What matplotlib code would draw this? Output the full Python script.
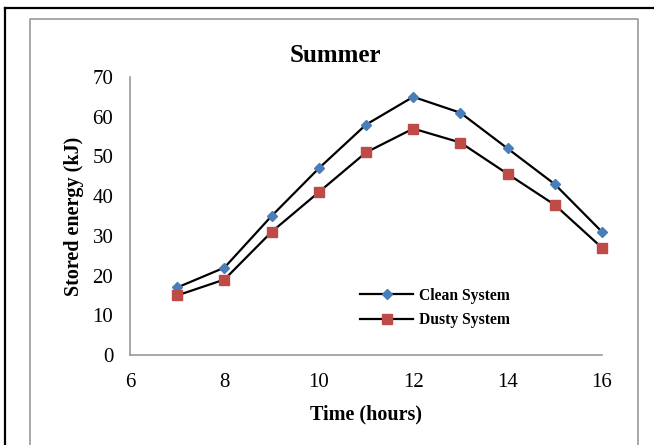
import matplotlib.pyplot as plt
from matplotlib.lines import Line2D

# data
hours = [7, 8, 9, 10, 11, 12, 13, 14, 15, 16]
clean = [17, 22, 35, 47, 58, 65, 61, 52, 43, 31]
dusty = [15, 19, 31, 41, 51, 57, 53.5, 45.6, 37.8, 27]

plt.rcParams['font.family'] = ['Liberation Serif', 'DejaVu Serif']

fig = plt.figure(figsize=(6.54, 4.45), dpi=100)
W, H = 654, 445

# outer black frame (left + top) and inner grey chart-area box
fig.add_artist(Line2D([5 / W, 5 / W], [0, 1 - 8 / H], color='black', lw=1.6, transform=fig.transFigure))
fig.add_artist(Line2D([5 / W, 1], [1 - 8 / H, 1 - 8 / H], color='black', lw=1.6, transform=fig.transFigure))
fig.add_artist(Line2D([30 / W, 30 / W, 638 / W, 638 / W], [0, 1 - 19 / H, 1 - 19 / H, 0],
                      color='#999999', lw=1.2, transform=fig.transFigure))

ax = fig.add_axes([130 / W, 1 - 355 / H, (602 - 130) / W, (355 - 77) / H])

ax.plot(hours, clean, color='black', lw=1.6, marker='D', markersize=5, clip_on=False,
        markerfacecolor='#4A7EBB', markeredgecolor='#4A7EBB', label='Clean System')
ax.plot(hours, dusty, color='black', lw=1.6, marker='s', markersize=7, clip_on=False,
        markerfacecolor='#BE4B48', markeredgecolor='#BE4B48', label='Dusty System')

ax.set_xlim(6, 16)
ax.set_ylim(0, 70)
ax.set_xticks(range(6, 17, 2))
ax.set_yticks(range(0, 71, 10))
ax.tick_params(length=0, labelsize=15)
ax.tick_params(axis='x', pad=13)
ax.tick_params(axis='y', pad=12)

for s in ['top', 'right']:
    ax.spines[s].set_visible(False)
for s in ['left', 'bottom']:
    ax.spines[s].set_color('#999999')
    ax.spines[s].set_linewidth(1.2)

ax.set_xlabel('Time (hours)', fontsize=14.5, fontweight='bold', labelpad=9)
ax.set_ylabel('Stored energy (kJ)', fontsize=14.5, fontweight='bold', labelpad=6)
fig.text(335 / W, 1 - 55 / H, 'Summer', ha='center', va='center', fontsize=18, fontweight='bold')

ax.legend(loc='center left', bbox_to_anchor=(230 / 472, 47 / 278), frameon=False,
          prop={'weight': 'bold', 'size': 11.25}, handlelength=3.4, handletextpad=0.35,
          labelspacing=0.55, borderaxespad=0, borderpad=0)

fig.savefig('out.png', dpi=100)
